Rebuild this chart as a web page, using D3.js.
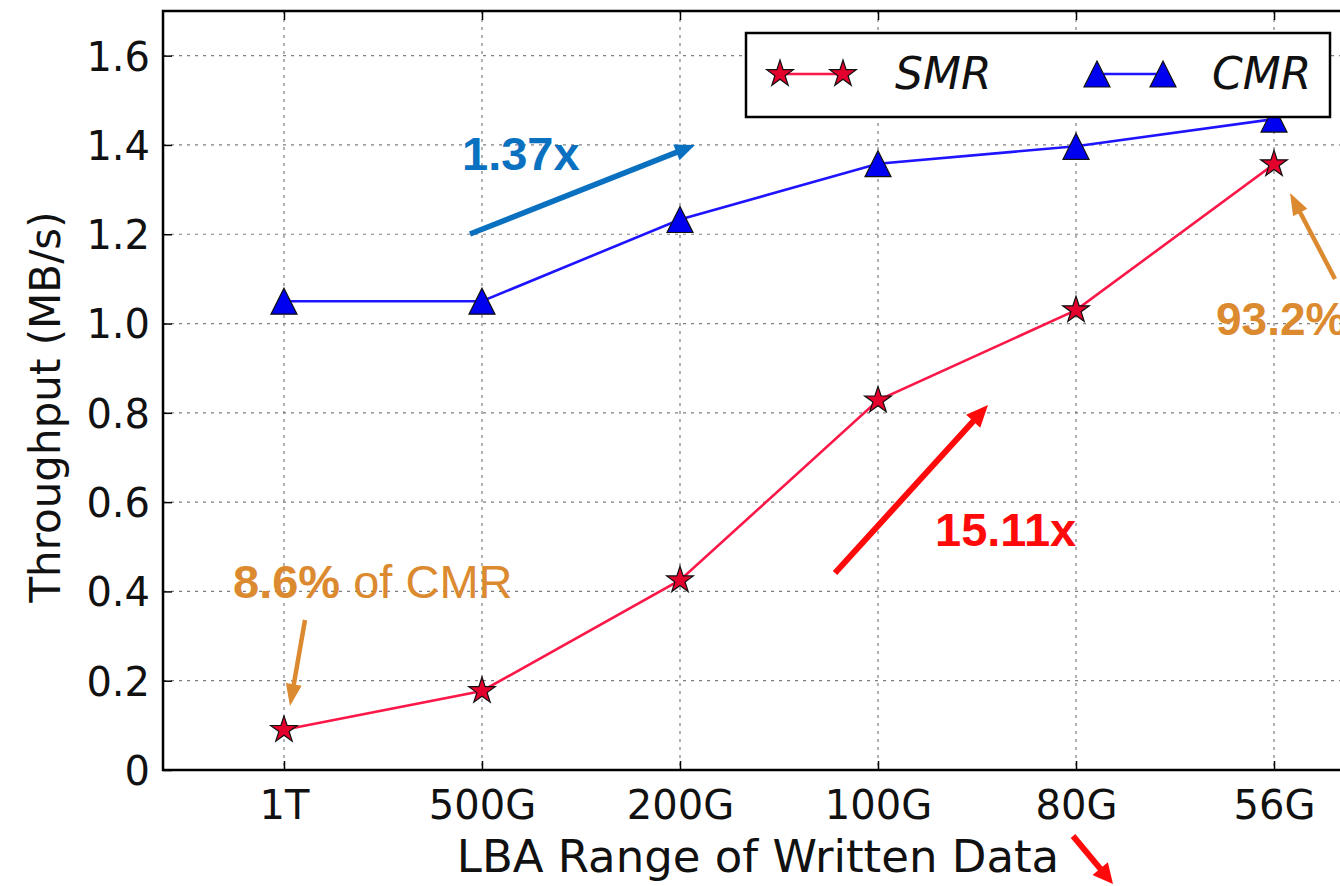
<!DOCTYPE html>
<html>
<head>
<meta charset="utf-8">
<script src="https://cdn.jsdelivr.net/npm/d3@7/dist/d3.min.js"></script>
<style>
  html, body { margin: 0; padding: 0; background: #fff; }
  svg { display: block; }
</style>
</head>
<body>
<svg id="chart" width="1340" height="886"></svg>
<script>
// LBA range of written data vs. throughput
const categories = ["1T", "500G", "200G", "100G", "80G", "56G"];
const smrValues = [0.09, 0.177, 0.425, 0.828, 1.03, 1.357];
const cmrValues = [1.05, 1.05, 1.233, 1.358, 1.397, 1.458];
const yTicks = [0, 0.2, 0.4, 0.6, 0.8, 1.0, 1.2, 1.4, 1.6];
const yTickLabels = ["0", "0.2", "0.4", "0.6", "0.8", "1.0", "1.2", "1.4", "1.6"];
const seriesNames = ["SMR", "CMR"];

const svg = d3.select("#chart");
const W = 1340, H = 886;
const plot = { left: 163, top: 11, right: 1395, bottom: 770 };

svg.append("rect").attr("width", W).attr("height", H).attr("fill", "#fff");

const x = d3.scalePoint().domain(categories).range([plot.left, plot.right]).padding(0.611);
const y = d3.scaleLinear().domain([0, 1.7]).range([plot.bottom, plot.top]);

const ORANGE = "#dc8a30", BLUE_TXT = "#0a70c0", RED = "#ff0a0a";

// grid
const grid = svg.append("g").attr("stroke", "#555").attr("stroke-width", 1.2)
  .attr("stroke-dasharray", "3,5").attr("opacity", 0.75);
grid.selectAll("line.h").data(yTicks.filter(d => d > 0)).join("line")
  .attr("x1", plot.left).attr("x2", plot.right)
  .attr("y1", d => y(d)).attr("y2", d => y(d));
grid.selectAll("line.v").data(categories).join("line")
  .attr("x1", d => x(d)).attr("x2", d => x(d))
  .attr("y1", plot.top).attr("y2", plot.bottom);

// axes (ticks pointing inward)
const font = "'DejaVu Sans', sans-serif";
const yAxis = d3.axisLeft(y).tickValues(yTicks).tickSizeInner(-9).tickSizeOuter(0)
  .tickPadding(13).tickFormat((d, i) => yTickLabels[i]);
const gy = svg.append("g").attr("transform", `translate(${plot.left},0)`).call(yAxis);
const xAxis = d3.axisBottom(x).tickSizeInner(-9).tickSizeOuter(0).tickPadding(19);
const gx = svg.append("g").attr("transform", `translate(0,${plot.bottom})`).call(xAxis);
const gxTop = svg.append("g").attr("transform", `translate(0,${plot.top})`)
  .call(d3.axisTop(x).tickSizeInner(-9).tickSizeOuter(0).tickFormat(""));
[gy, gx, gxTop].forEach(g => {
  g.select(".domain").remove();
  g.selectAll(".tick line").attr("stroke", "#000").attr("stroke-width", 1.5);
  g.selectAll("text").attr("fill", "#111").style("font-family", font).style("font-size", "40px");
});
gy.selectAll("text").attr("dy", "0.36em");
gx.selectAll("text").attr("dy", "0.74em");

// frame
svg.append("rect").attr("x", plot.left).attr("y", plot.top)
  .attr("width", plot.right - plot.left).attr("height", plot.bottom - plot.top)
  .attr("fill", "none").attr("stroke", "#000").attr("stroke-width", 2.5);

// axis titles
svg.append("text").attr("x", 758).attr("y", 872).attr("text-anchor", "middle")
  .style("font-family", font).style("font-size", "45px").attr("fill", "#111")
  .text("LBA Range of Written Data");
svg.append("text").attr("transform", "translate(60,407) rotate(-90)").attr("text-anchor", "middle")
  .style("font-family", font).style("font-size", "42px").attr("fill", "#111")
  .text("Throughput (MB/s)");

// markers
const star = d3.symbol().type(d3.symbolStar).size(220);
const tri = h => `M0,${-h}L${h},${h}L${-h},${h}Z`;

function drawSeries(vals, lineColor, kind) {
  const line = d3.line().x((d, i) => x(categories[i])).y(d => y(d));
  svg.append("path").datum(vals).attr("d", line).attr("fill", "none")
    .attr("stroke", lineColor).attr("stroke-width", 2.6);
  const g = svg.append("g");
  g.selectAll("path").data(vals).join("path")
    .attr("transform", (d, i) => `translate(${x(categories[i])},${y(d)})`)
    .attr("d", kind === "star" ? star() : tri(13))
    .attr("fill", kind === "star" ? "#e4002c" : "#0000f0")
    .attr("stroke", "#111").attr("stroke-width", 1.2);
}
drawSeries(cmrValues, "#1f14ff", "tri");
drawSeries(smrValues, "#fb1848", "star");

// legend
const lg = svg.append("g");
lg.append("rect").attr("x", 746).attr("y", 33).attr("width", 584).attr("height", 84)
  .attr("fill", "#fff").attr("stroke", "#000").attr("stroke-width", 2.5);
lg.append("line").attr("x1", 780).attr("x2", 843).attr("y1", 74).attr("y2", 74)
  .attr("stroke", "#fb1848").attr("stroke-width", 2.6);
[780, 843].forEach(px => lg.append("path").attr("transform", `translate(${px},74)`)
  .attr("d", star()).attr("fill", "#e4002c").attr("stroke", "#111").attr("stroke-width", 1.2));
lg.append("line").attr("x1", 1097).attr("x2", 1163).attr("y1", 74).attr("y2", 74)
  .attr("stroke", "#1f14ff").attr("stroke-width", 2.6);
[1097, 1163].forEach(px => lg.append("path").attr("transform", `translate(${px},74)`)
  .attr("d", tri(13)).attr("fill", "#0000f0").attr("stroke", "#111").attr("stroke-width", 1.2));
lg.selectAll("text.lbl").data(seriesNames).join("text")
  .attr("x", (d, i) => i === 0 ? 895 : 1212).attr("y", 89)
  .style("font-family", font).style("font-size", "44px").style("font-style", "italic")
  .attr("fill", "#111").text(d => d);

// annotation arrows
function arrow(x1, y1, x2, y2, color, w, headLen, headW) {
  const a = Math.atan2(y2 - y1, x2 - x1);
  const bx = x2 - headLen * Math.cos(a), by = y2 - headLen * Math.sin(a);
  svg.append("line").attr("x1", x1).attr("y1", y1).attr("x2", bx + Math.cos(a) * 2).attr("y2", by + Math.sin(a) * 2)
    .attr("stroke", color).attr("stroke-width", w);
  const px = -Math.sin(a) * headW / 2, py = Math.cos(a) * headW / 2;
  svg.append("path").attr("d", `M${x2},${y2}L${bx + px},${by + py}L${bx - px},${by - py}Z`).attr("fill", color);
}
arrow(470, 234, 695, 145, "#0a70c0", 5.5, 20, 17);
arrow(835, 573, 988, 405, RED, 6, 22, 19);
arrow(305, 620, 290, 706, ORANGE, 4.5, 22, 16);
arrow(1335, 279, 1290, 193, ORANGE, 4.5, 22, 16);
arrow(1073, 836, 1113, 884, RED, 6, 20, 20);

// annotation texts
const ann = "'Liberation Sans', Arial, sans-serif";
svg.append("text").attr("x", 462).attr("y", 170).style("font-family", ann).style("font-size", "47px")
  .style("font-weight", "bold").attr("fill", BLUE_TXT).text("1.37x");
svg.append("text").attr("x", 935).attr("y", 546).style("font-family", ann).style("font-size", "47px")
  .style("font-weight", "bold").attr("fill", RED).text("15.11x");
svg.append("text").attr("x", 1216).attr("y", 335).style("font-family", ann).style("font-size", "46px")
  .style("font-weight", "bold").attr("fill", ORANGE).text("93.2%");
const t86 = svg.append("text").attr("x", 233).attr("y", 598).style("font-family", ann).style("font-size", "47px")
  .attr("fill", ORANGE);
t86.append("tspan").style("font-weight", "bold").text("8.6%");
t86.append("tspan").text(" of CMR");
</script>
</body>
</html>
